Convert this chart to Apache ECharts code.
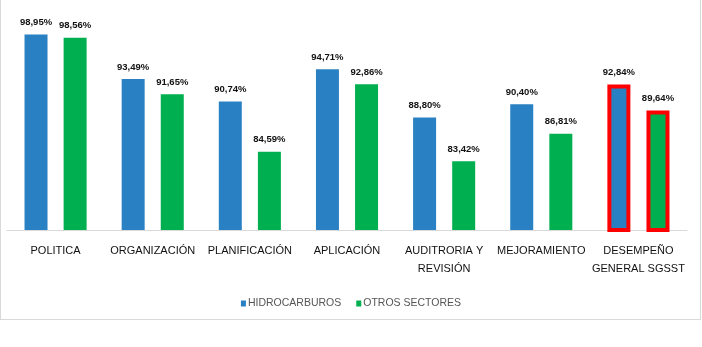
<!DOCTYPE html>
<html>
<head>
<meta charset="utf-8">
<script src="https://cdn.jsdelivr.net/npm/echarts@6/dist/echarts.min.js"></script>
<style>
  html, body { margin: 0; padding: 0; background: #fff; }
  #frame { position: absolute; left: 0; top: -1px; width: 699px; height: 319px; border: 1px solid #d9d9d9; }
  #chart { position: absolute; left: 0; top: 0; width: 702px; height: 347px; }
</style>
</head>
<body>
<div id="frame"></div>
<div id="chart"></div>
<script>
const categories = ['POLITICA', 'ORGANIZACIÓN', 'PLANIFICACIÓN', 'APLICACIÓN', 'AUDITRORIA Y\nREVISIÓN', 'MEJORAMIENTO', 'DESEMPEÑO\nGENERAL SGSST'];
const hidrocarburos = [98.95, 93.49, 90.74, 94.71, 88.80, 90.40, 92.84];
const otrosSectores = [98.56, 91.65, 84.59, 92.86, 83.42, 86.81, 89.64];
const seriesNames = ['HIDROCARBUROS', 'OTROS SECTORES'];
const highlightIndex = 6;

const FONT = '"Liberation Sans", Arial, sans-serif';

function toData(values) {
  return values.map((v, i) => i === highlightIndex
    ? { value: v, itemStyle: { borderColor: '#ff0000', borderWidth: 4 } }
    : v);
}

const labelCfg = {
  show: true,
  position: 'top',
  distance: 7,
  fontFamily: FONT,
  fontSize: 9.5,
  fontWeight: 'bold',
  color: '#111',
  formatter: p => p.value.toFixed(2).replace('.', ',') + '%'
};

const chart = echarts.init(document.getElementById('chart'), null, { renderer: 'canvas' });
chart.setOption({
  animation: false,
  grid: { left: 7, right: 15, top: 26, bottom: 117, containLabel: false },
  legend: {
    top: 293,
    left: 'center',
    itemWidth: 5,
    itemHeight: 6,
    itemGap: 15,
    icon: 'rect',
    textStyle: { fontFamily: FONT, fontSize: 10.5, color: '#555', padding: [0, 0, 0, -3] },
    data: seriesNames
  },
  xAxis: {
    type: 'category',
    data: categories,
    axisLine: { lineStyle: { color: '#d9d9d9', width: 1 } },
    axisTick: { show: false },
    axisLabel: {
      interval: 0,
      margin: 12,
      fontFamily: FONT,
      fontSize: 11,
      lineHeight: 18,
      color: '#111',
      verticalAlign: 'top'
    }
  },
  yAxis: {
    type: 'value',
    min: 75,
    max: 100,
    show: false,
    splitLine: { show: false }
  },
  series: [
    {
      name: seriesNames[0],
      type: 'bar',
      barWidth: 23,
      barGap: '70%',
      itemStyle: { color: '#2980c3' },
      label: labelCfg,
      data: toData(hidrocarburos)
    },
    {
      name: seriesNames[1],
      type: 'bar',
      barWidth: 23,
      barGap: '70%',
      itemStyle: { color: '#00b050' },
      label: labelCfg,
      data: toData(otrosSectores)
    }
  ]
});
</script>
</body>
</html>
